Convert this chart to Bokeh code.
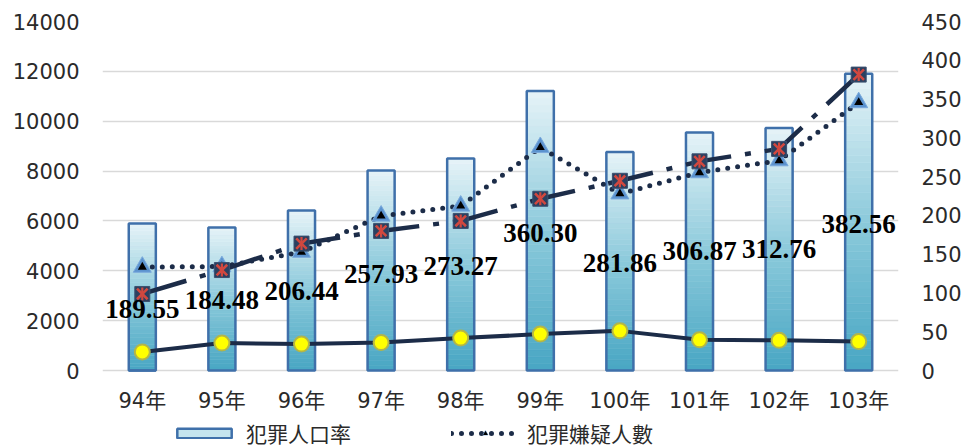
from bokeh.plotting import figure
from bokeh.models import (FactorRange, Range1d, LinearAxis, FixedTicker,
                          Legend, LegendItem, ColumnDataSource)
from bokeh.core.properties import value
from bokeh.embed import file_html
from bokeh.resources import INLINE

# ---- data ----
years = ["94年", "95年", "96年", "97年", "98年", "99年", "100年", "101年", "102年", "103年"]
crime_rate = [189.55, 184.48, 206.44, 257.93, 273.27, 360.30, 281.86, 306.87, 312.76, 382.56]
suspects = [4150, 4170, 4750, 6200, 6600, 8950, 7090, 7940, 8420, 10750]
series_x = [3070, 4030, 5090, 5600, 6000, 6890, 7610, 8390, 8890, 11870]
series_o = [745, 1100, 1060, 1120, 1300, 1460, 1590, 1230, 1210, 1160]
label_anchor = [2470, 2830, 3190, 3877, 4200, 5520, 4320, 4800, 4880, 5886]
left_ticks = [0, 2000, 4000, 6000, 8000, 10000, 12000, 14000]
right_ticks = [0, 50, 100, 150, 200, 250, 300, 350, 400, 450]
LEFT_MAX, RIGHT_MAX = 14000, 450

# ---- layout (pixels) ----
PLOT_PX = 349        # height of the value area (0 .. max)
BELOW_PX = 78        # room under the zero line for category labels and legend
XLABEL_PX = 30       # category labels sit this far under the zero line

NAVY = "#1c2c48"

def hex2rgb(h):
    h = h.lstrip("#")
    return tuple(int(h[i:i + 2], 16) for i in (0, 2, 4))

def lerp(c1, c2, t):
    a, b = hex2rgb(c1), hex2rgb(c2)
    return "#%02x%02x%02x" % tuple(int(round(a[i] + (b[i] - a[i]) * t)) for i in range(3))

stops = ["#48a6c3", "#8ccadb", "#e6f3f8"]
def grad(t):
    if t < 0.5:
        return lerp(stops[0], stops[1], t / 0.5)
    return lerp(stops[1], stops[2], (t - 0.5) / 0.5)

left_lo = -LEFT_MAX * BELOW_PX / PLOT_PX
right_lo = -RIGHT_MAX * BELOW_PX / PLOT_PX

p = figure(x_range=FactorRange(*years), y_range=Range1d(left_lo, LEFT_MAX),
           width=971, height=448, output_backend="svg", toolbar_location=None,
           min_border_left=102, min_border_right=73, min_border_top=21, min_border_bottom=0,
           x_axis_location=None)
p.extra_y_ranges = {"right": Range1d(right_lo, RIGHT_MAX)}
p.outline_line_color = None
p.background_fill_color = "white"

# axes
tick_font = "DejaVu Sans, Noto Sans CJK TC"
p.yaxis.ticker = FixedTicker(ticks=left_ticks)
ax = p.yaxis[0]
ax.axis_line_color = None
ax.major_tick_line_color = None
ax.minor_tick_line_color = None
ax.major_tick_out = 0
ax.major_tick_in = 0
ax.minor_tick_out = 0
ax.major_label_standoff = 23
ax.major_label_text_font = tick_font
ax.major_label_text_font_size = "21px"
ax.major_label_text_color = "#2a2a2a"

raxis = LinearAxis(y_range_name="right", ticker=FixedTicker(ticks=right_ticks),
                   axis_line_color=None, major_tick_line_color=None,
                   minor_tick_line_color=None, major_tick_out=0, major_tick_in=0,
                   minor_tick_out=0, major_label_standoff=23,
                   major_label_text_font=tick_font, major_label_text_font_size="21px",
                   major_label_text_color="#2a2a2a")
p.add_layout(raxis, "right")

p.xgrid.grid_line_color = None
p.ygrid.grid_line_color = "#d9d9d9"
p.ygrid.grid_line_width = 1.5

# gradient bars (against right axis)
N = 40
gx, gb, gt, gc = [], [], [], []
for c, v in zip(years, crime_rate):
    for k in range(N):
        gx.append(c)
        gb.append(v * k / N)
        gt.append(v * (k + 1) / N)
        gc.append(grad((k + 0.5) / N))
p.vbar(x=gx, bottom=gb, top=gt, width=0.34, fill_color=gc, line_color=gc,
       line_width=0.6, y_range_name="right")
p.vbar(x=years, top=crime_rate, width=0.34, fill_color=None,
       line_color="#3f70aa", line_width=2.5, y_range_name="right")

src = ColumnDataSource(dict(x=years, sus=suspects, sx=series_x, so=series_o,
                            lab=label_anchor, txt=["%.2f" % v for v in crime_rate],
                            xl=[-LEFT_MAX * XLABEL_PX / PLOT_PX] * len(years)))

# solid line with yellow circles
p.line("x", "so", source=src, line_color=NAVY, line_width=4)
p.scatter("x", "so", source=src, marker="circle", size=15, fill_color="#ffff00",
          line_color="#b3b548", line_width=2)

# dotted line with triangles
dot_line = p.line("x", "sus", source=src, line_color=NAVY, line_width=5,
                  line_dash="0 10", line_cap="round")
tri_b = p.scatter("x", "sus", source=src, marker="triangle", size=18,
                  fill_color="#5b93cf", line_color="#79a9dc", line_width=1)
tri_k = p.scatter("x", "sus", source=src, marker="triangle", size=9,
                  fill_color="black", line_color=None)

# dashed line with X markers
p.line("x", "sx", source=src, line_color=NAVY, line_width=4.5, line_dash="46 14 6 14")
p.scatter("x", "sx", source=src, marker="square", size=15, fill_color="#2b4060",
          line_color="#3b5070", line_width=1)
p.scatter("x", "sx", source=src, marker="x", size=15, line_color="#d1483f", line_width=2.6)
p.scatter("x", "sx", source=src, marker="dash", size=13, angle=1.5708,
          line_color="#d1483f", line_width=2.2)

# data labels
p.text("x", "lab", text="txt", source=src, text_font=value("Liberation Serif"),
       text_font_style="bold", text_font_size="27px", text_color="black",
       text_align="center", text_baseline="middle")

# category labels under the zero line
p.text("x", "xl", text="x", source=src, text_font=value(tick_font),
       text_font_size="21px", text_color="#2a2a2a",
       text_align="center", text_baseline="middle")

# legend swatch renderer (zero-height bar, only its legend glyph is seen)
legend_src = ColumnDataSource(dict(x=[years[0]], top=[0]))
swatch = p.vbar(x="x", top="top", source=legend_src, width=0.34, fill_color="#c4e4ee",
                line_color="#3f70aa", line_width=2.5, y_range_name="right")

legend = Legend(items=[LegendItem(label="犯罪人口率", renderers=[swatch]),
                       LegendItem(label="犯罪嫌疑人數", renderers=[dot_line, tri_b, tri_k])],
                orientation="horizontal", location=(68, 0),
                glyph_width=68, glyph_height=12, label_standoff=8, spacing=100,
                padding=0, margin=0, border_line_color=None,
                background_fill_alpha=0,
                label_text_font="Noto Sans CJK TC", label_text_font_size="21px",
                label_text_color="#2a2a2a")
p.add_layout(legend, "center")

open("out.html", "w").write(file_html(p, INLINE))
